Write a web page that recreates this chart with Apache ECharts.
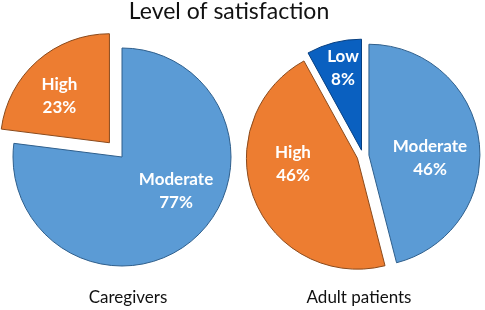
<!DOCTYPE html>
<html>
<head>
<meta charset="utf-8">
<script src="https://cdn.jsdelivr.net/npm/echarts@6/dist/echarts.min.js"></script>
<style>
  html, body { margin: 0; padding: 0; background: #fff; }
  #chart { width: 485px; height: 310px; }
</style>
</head>
<body>
<div id="chart"></div>
<script>
// 数据
const leftCategories = ['Moderate', 'High']
const leftValues = [77, 23]
const rightCategories = ['Moderate', 'High', 'Low']
const rightValues = [46, 46, 8]
const groupNames = ['Caregivers', 'Adult patients']

// 样式
const sliceColors = { Moderate: '#5B9BD5', High: '#ED7D31', Low: '#0A60C0' }
const sliceBorders = { Moderate: '#2F5F8C', High: '#8A4A1C', Low: '#073F80' }
const leftExploded = [false, true]
const rightExploded = [true, true, true]
// 标签微调 (Excel 的标签位置与 ECharts 的 inside 位置不同)
const leftLabelShift = [[16, -9], [-12, -4]]
const rightLabelShift = [[3, 10], [-10, -16], [-4, -26]]

const font = 'Lato, "Open Sans", sans-serif'

const buildData = (cats, vals, exploded) => cats.map((name, i) => ({
  name: name,
  value: vals[i],
  selected: exploded[i],
  itemStyle: {
    color: sliceColors[name],
    borderColor: sliceBorders[name],
    borderWidth: 1
  }
}))

const pieBase = {
  type: 'pie',
  startAngle: 90,
  clockwise: true,
  avoidLabelOverlap: false,
  label: {
    show: true,
    position: 'inside',
    formatter: '{b}\n{c}%',
    color: '#fff',
    fontFamily: font,
    fontWeight: 'bold',
    fontSize: 17,
    lineHeight: 23
  },
  labelLine: { show: false },
  emphasis: { disabled: true },
  select: { disabled: false, itemStyle: {}, label: {} }
}

const chart = echarts.init(document.getElementById('chart'))

chart.setOption({
  animation: false,
  graphic: [
    {
      type: 'text', x: 229, y: 12,
      style: { text: 'Level of satisfaction', fill: '#111', font: '23px ' + font, textAlign: 'center', textVerticalAlign: 'middle' }
    },
    {
      type: 'text', x: 128, y: 298,
      style: { text: groupNames[0], fill: '#111', font: '17px ' + font, textAlign: 'center', textVerticalAlign: 'middle' }
    },
    {
      type: 'text', x: 359, y: 298,
      style: { text: groupNames[1], fill: '#111', font: '17px ' + font, textAlign: 'center', textVerticalAlign: 'middle' }
    }
  ],
  series: [
    Object.assign({}, pieBase, {
      center: [122, 157],
      radius: 109,
      selectedMode: 'multiple',
      selectedOffset: 19,
      data: buildData(leftCategories, leftValues, leftExploded),
      labelLayout: p => ({ dx: leftLabelShift[p.dataIndex][0], dy: leftLabelShift[p.dataIndex][1] })
    }),
    Object.assign({}, pieBase, {
      center: [363, 156],
      radius: 111,
      selectedMode: 'multiple',
      selectedOffset: 6,
      data: buildData(rightCategories, rightValues, rightExploded),
      labelLayout: p => ({ dx: rightLabelShift[p.dataIndex][0], dy: rightLabelShift[p.dataIndex][1] })
    })
  ]
})

window.addEventListener('resize', () => chart.resize())
</script>
</body>
</html>
